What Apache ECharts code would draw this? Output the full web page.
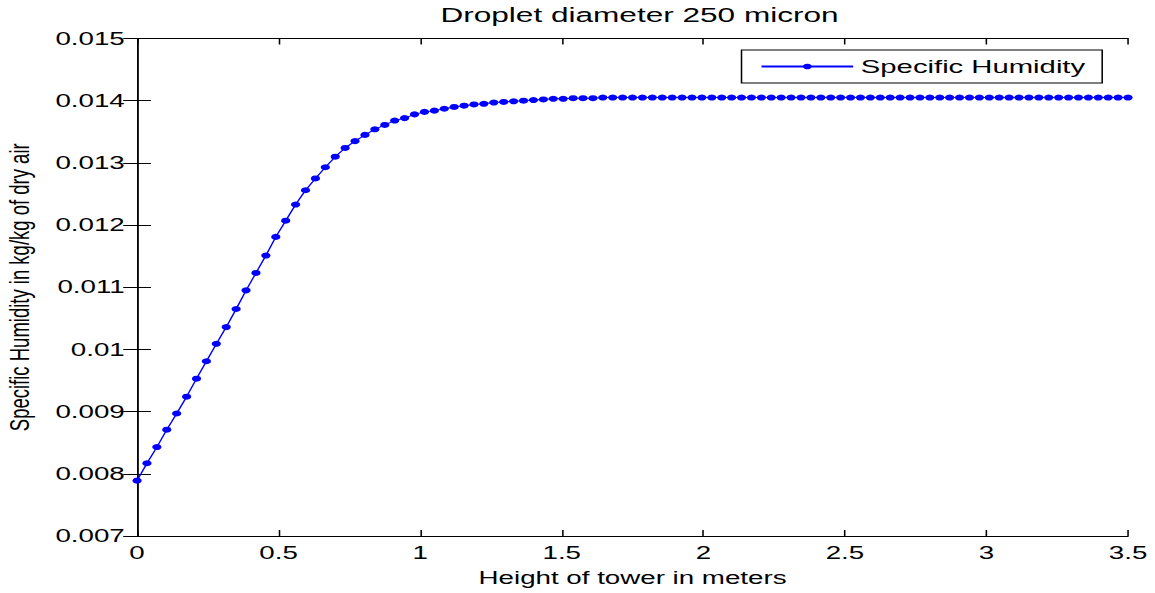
<!DOCTYPE html>
<html>
<head>
<meta charset="utf-8">
<script src="https://cdn.jsdelivr.net/npm/echarts@6/dist/echarts.min.js"></script>
<style>
  html, body { margin: 0; padding: 0; background: #fff; overflow: hidden; }
  #chart { width: 750px; height: 593px; transform: scaleX(1.54); transform-origin: 0 0; }
</style>
</head>
<body>
<div id="chart"></div>
<script>
const chartTitle = 'Droplet diameter 250 micron';
const xAxisTitle = 'Height of tower in meters';
const yAxisTitle = 'Specific Humidity in kg/kg of dry air';
const seriesName = 'Specific Humidity';

const heights = [
  0, 0.035, 0.07, 0.105, 0.14, 0.175, 0.21, 0.245, 0.28, 0.315,
  0.35, 0.385, 0.42, 0.455, 0.49, 0.525, 0.56, 0.595, 0.63, 0.665,
  0.7, 0.735, 0.77, 0.805, 0.84, 0.875, 0.91, 0.945, 0.98, 1.015,
  1.05, 1.085, 1.12, 1.155, 1.19, 1.225, 1.26, 1.295, 1.33, 1.365,
  1.4, 1.435, 1.47, 1.505, 1.54, 1.575, 1.61, 1.645, 1.68, 1.715,
  1.75, 1.785, 1.82, 1.855, 1.89, 1.925, 1.96, 1.995, 2.03, 2.065,
  2.1, 2.135, 2.17, 2.205, 2.24, 2.275, 2.31, 2.345, 2.38, 2.415,
  2.45, 2.485, 2.52, 2.555, 2.59, 2.625, 2.66, 2.695, 2.73, 2.765,
  2.8, 2.835, 2.87, 2.905, 2.94, 2.975, 3.01, 3.045, 3.08, 3.115,
  3.15, 3.185, 3.22, 3.255, 3.29, 3.325, 3.36, 3.395, 3.43, 3.465,
  3.5
];

const humidity = [
  0.00789, 0.00817, 0.00843, 0.00871, 0.00897, 0.00924, 0.00953, 0.00981, 0.01009, 0.01036,
  0.01065, 0.01095, 0.01123, 0.01151, 0.01181, 0.01207, 0.01233, 0.01256, 0.01275, 0.01293,
  0.01310, 0.01324, 0.01335, 0.01345, 0.01354, 0.01361, 0.01368, 0.01372, 0.01378, 0.01382,
  0.01384, 0.01387, 0.01390, 0.01392, 0.01394, 0.01395, 0.01397, 0.01398, 0.01399, 0.01400,
  0.01401, 0.01402, 0.01403, 0.01403, 0.01404, 0.01404, 0.01404, 0.01405, 0.01405, 0.01405,
  0.01405, 0.01405, 0.01405, 0.01405, 0.01405, 0.01405, 0.01405, 0.01405, 0.01405, 0.01405,
  0.01405, 0.01405, 0.01405, 0.01405, 0.01405, 0.01405, 0.01405, 0.01405, 0.01405, 0.01405,
  0.01405, 0.01405, 0.01405, 0.01405, 0.01405, 0.01405, 0.01405, 0.01405, 0.01405, 0.01405,
  0.01405, 0.01405, 0.01405, 0.01405, 0.01405, 0.01405, 0.01405, 0.01405, 0.01405, 0.01405,
  0.01405, 0.01405, 0.01405, 0.01405, 0.01405, 0.01405, 0.01405, 0.01405, 0.01405, 0.01405,
  0.01405
];

const xMin = 0, xMax = 3.5, xStep = 0.5;
const yMin = 0.007, yMax = 0.015, yStep = 0.001;

const FONT = 'Liberation Sans, Arial, sans-serif';
const chart = echarts.init(document.getElementById('chart'), null, { renderer: 'svg' });

const axisLine = { show: true, lineStyle: { color: '#000', width: 1 } };
function xAx(pos, showLabels) {
  return {
    type: 'value', position: pos, min: xMin, max: xMax, interval: xStep,
    axisLine: axisLine,
    axisTick: { show: true, inside: true, length: 6, lineStyle: { color: '#000', width: 1 } },
    axisLabel: { show: showLabels, color: '#000', fontFamily: FONT, fontSize: 18, margin: 8 },
    splitLine: { show: false },
    name: showLabels ? xAxisTitle : '',
    nameLocation: 'middle', nameGap: 33,
    nameTextStyle: { color: '#000', fontFamily: FONT, fontSize: 18 }
  };
}
function yAx(pos, showLabels) {
  return {
    type: 'value', position: pos, min: yMin, max: yMax, interval: yStep,
    axisLine: axisLine,
    axisTick: { show: true, inside: true, length: 9, lineStyle: { color: '#000', width: 1 } },
    axisLabel: { show: showLabels, color: '#000', fontFamily: FONT, fontSize: 18, margin: 8 },
    splitLine: { show: false },
    name: showLabels ? yAxisTitle : '',
    nameLocation: 'middle', nameGap: 67, nameRotate: 90,
    nameTextStyle: { color: '#000', fontFamily: FONT, fontSize: 18.5 }
  };
}

chart.setOption({
  backgroundColor: '#fff',
  animation: false,
  title: {
    text: chartTitle, left: 281, top: 0,
    textStyle: { color: '#000', fontFamily: FONT, fontSize: 20.5, fontWeight: 'normal' }
  },
  grid: { left: 89, right: 17.5, top: 38.5, bottom: 57, containLabel: false, outerBoundsMode: 'none' },
  xAxis: [xAx('bottom', true), xAx('top', false)],
  yAxis: [yAx('left', true), yAx('right', false)],
  legend: {
    data: [seriesName],
    left: 481.5, top: 50,
    padding: [7, 11, 7, 12],
    borderColor: '#000', borderWidth: 1, borderRadius: 0,
    backgroundColor: '#fff',
    itemWidth: 59.5, itemHeight: 7,
    textStyle: { color: '#000', fontFamily: FONT, fontSize: 19 }
  },
  series: [{
    name: seriesName,
    type: 'line',
    xAxisIndex: 0, yAxisIndex: 0,
    data: heights.map((h, i) => [h, humidity[i]]),
    symbol: 'circle', symbolSize: 6,
    showAllSymbol: true,
    lineStyle: { color: '#0000ff', width: 1 },
    itemStyle: { color: '#0000ff' },
    clip: false
  }]
});
</script>
</body>
</html>
